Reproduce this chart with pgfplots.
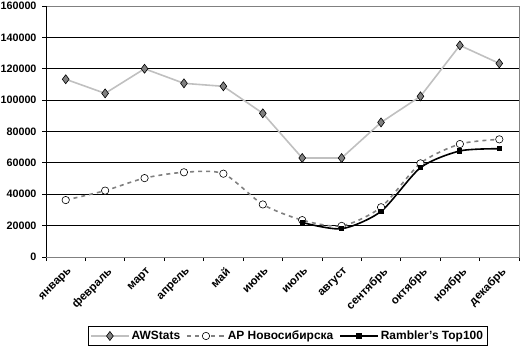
\documentclass[border=0pt]{standalone}
\usepackage{pgfplots}
\pgfplotsset{compat=1.18}
\usepackage{fontspec}
\setmainfont{Liberation Sans}
\definecolor{awline}{RGB}{192,192,192}
\definecolor{awmark}{RGB}{128,128,128}
\definecolor{apline}{RGB}{128,128,128}
\begin{document}
\begin{tikzpicture}[font=\bfseries]
\useasboundingbox (0,0) rectangle (523bp,350bp);
\begin{axis}[
  at={(46bp,93bp)}, anchor=south west,
  scale only axis, width=473bp, height=251bp,
  xmin=-0.5, xmax=11.5, ymin=0, ymax=160000,
  ytick={0,20000,...,160000},
  xtick={-0.5,0.5,...,11.5},
  x tick label as interval,
  xticklabels={январь,февраль,март,апрель,май,июнь,июль,август,сентябрь,октябрь,ноябрь,декабрь},
  xticklabel style={rotate=45, anchor=north east, inner sep=1bp, yshift=-4bp, xshift=-2bp, font=\fontsize{11.5}{13}\selectfont\bfseries},
  yticklabel style={font=\fontsize{10.8}{12}\selectfont\bfseries, xshift=-2bp},
  scaled y ticks=false,
  /pgf/number format/fixed,
  /pgf/number format/1000 sep={},
  /pgf/number format/assume math mode=true,
  ymajorgrids,
  major grid style={black, line width=0.8pt},
  tick align=outside, tick pos=left,
  major tick length=4bp,
  tick style={black, line width=0.8pt},
  axis line style={awmark, line width=0.8pt},
  legend columns=3,
  legend style={at={(axis description cs:0.5106,-0.3147)}, anchor=center,
    draw=black, line width=0.8pt, font=\fontsize{12}{13}\selectfont\bfseries,
    inner sep=2bp,
    /tikz/every even column/.append style={column sep=4bp}},
  legend image code/.code={\draw[mark repeat=2,mark phase=2] plot coordinates {(0bp,0bp) (19bp,0bp) (38bp,0bp)};},
]
\addplot[color=awline, line width=1.6bp, mark=diamond*, mark size=4.5bp,
  mark options={fill=awmark, draw=black, line width=0.6bp}]
  coordinates {(0,113300) (1,104300) (2,120000) (3,110700) (4,108800) (5,91600)
               (6,63100) (7,63100) (8,85800) (9,102400) (10,134900) (11,123400)};
\addlegendentry{AWStats}
\addplot[smooth, tension=0.45, color=apline, line width=1.6bp, dash pattern=on 4bp off 4bp,
  mark=*, mark size=3.7bp, mark options={solid, fill=white, draw=black, line width=0.6bp}]
  coordinates {(0,36300) (1,42300) (2,50300) (3,54000) (4,53100) (5,33500)
               (6,23500) (7,19800) (8,31700) (9,59700) (10,72000) (11,75000)};
\addlegendentry{AP Новосибирска}
\addplot[smooth, tension=0.45, color=black, line width=1.6bp, mark=square*, mark size=1.8bp]
  coordinates {(6,22000) (7,18000) (8,29100) (9,56900) (10,67600) (11,69000)};
\addlegendentry{Rambler's Top100}
\draw[awmark, line width=0.8pt] (rel axis cs:0,1) -- (rel axis cs:1,1) -- (rel axis cs:1,0);
\draw[black, line width=0.8pt] (rel axis cs:0,1) -- (rel axis cs:0,0) -- (rel axis cs:1,0);
\end{axis}
\end{tikzpicture}
\end{document}
